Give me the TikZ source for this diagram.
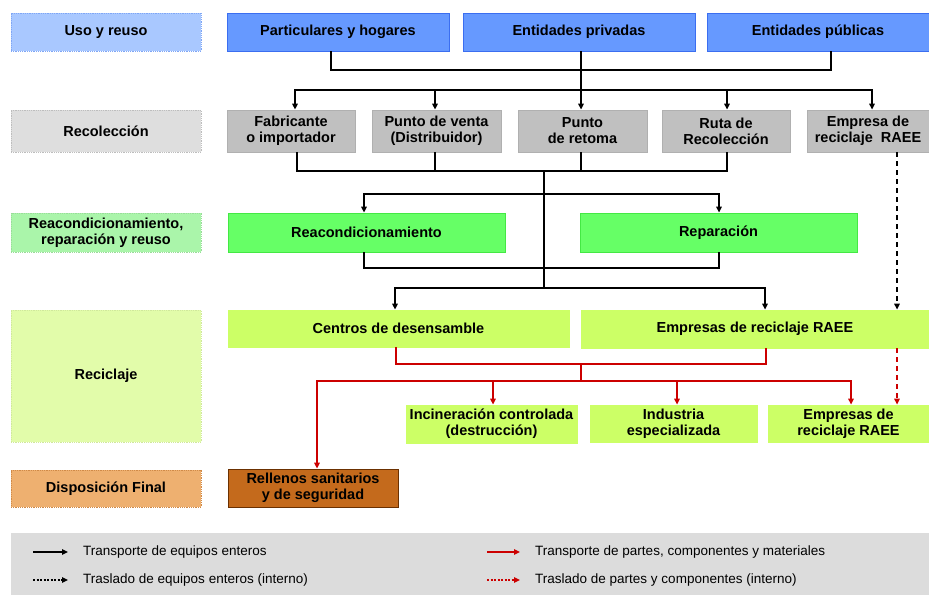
\documentclass[tikz,border=0pt]{standalone}
\usepackage{fontspec}
\setmainfont{Liberation Sans}
\usetikzlibrary{arrows.meta}
\definecolor{blab}{HTML}{A9C8FF}
\definecolor{blabd}{HTML}{7FA6F5}
\definecolor{bbox}{HTML}{6699FF}
\definecolor{bboxd}{HTML}{3B6EF0}
\definecolor{glab}{HTML}{DEDEDE}
\definecolor{gbox}{HTML}{C0C0C0}
\definecolor{gboxd}{HTML}{B0B0B0}
\definecolor{grlab}{HTML}{AAF5AA}
\definecolor{grbox}{HTML}{66FF66}
\definecolor{grboxd}{HTML}{44E844}
\definecolor{ylab}{HTML}{E2FCAA}
\definecolor{ybox}{HTML}{CCFF66}
\definecolor{olab}{HTML}{EEB070}
\definecolor{olabd}{HTML}{D08A48}
\definecolor{obox}{HTML}{C46A1C}
\definecolor{oboxd}{HTML}{6B3000}
\definecolor{leggray}{HTML}{DCDCDC}
\definecolor{rline}{HTML}{CC0000}
\begin{document}
\begin{tikzpicture}[x=1pt,y=-1pt,
  font=\bfseries\fontsize{14.5}{16}\selectfont,
  bx/.style args={#1,#2,#3,#4}{minimum width={(#3-#1)*1pt}, minimum height={(#4-#2)*1pt}, at={({(#1+#3)/2},{(#2+#4)/2})}},
  box/.style={draw, line width=0.8pt, inner sep=0pt, align=center},
  lab/.style={box, densely dotted},
  ln/.style={line width=1.4pt, line cap=rect},
  arr/.style={line width=1.4pt, -{Triangle[length=6pt,width=5.5pt]}},
  rl/.style={ln, rline},
  rarr/.style={arr, rline},
  legtxt/.style={anchor=west, inner sep=0pt, font=\mdseries\fontsize{13.5}{15}\selectfont}
]
\useasboundingbox (0,0) rectangle (929,595);

% left labels
\node[lab, fill=blab, draw=blabd, bx={11,13,201,51}] (l1) {Uso y reuso};
\node[lab, fill=glab, draw=glab!85!black, bx={11,110,201,152}] (l2) {Recolección};
\node[lab, fill=grlab, draw=grlab!90!black, bx={11,213,201,252}] (l3) {Reacondicionamiento,\\reparación y reuso};
\node[lab, fill=ylab, draw=ylab!92!black, bx={11,310,201,442}] (l4) {Reciclaje};
\node[lab, fill=olab, draw=olabd, bx={11,470,201,507}] (l5) {Disposición Final};

% top row
\node[box, fill=bbox, draw=bboxd, bx={227,13,449,51}] (ph) {Particulares y hogares};
\node[box, fill=bbox, draw=bboxd, bx={463,13,695,51}] (pv) {Entidades privadas};
\node[box, fill=bbox, draw=bboxd, bx={707,13,929,51}] (pu) {Entidades públicas};

% collection row
\node[box, fill=gbox, draw=gboxd, bx={227,110,355,152}] (fab) {Fabricante\\o importador};
\node[box, fill=gbox, draw=gboxd, bx={372,110,501,152}] (pvd) {Punto de venta\\(Distribuidor)};
\node[box, fill=gbox, draw=gboxd, bx={518,110,647,152}] (ret) {Punto\\de retoma};
\node[box, fill=gbox, draw=gboxd, bx={662,110,790,152}] (ruta) {Ruta de\\Recolección};
\node[box, fill=gbox, draw=gboxd, bx={807,110,929,152}] (ere) {Empresa de\\reciclaje\ \ RAEE};

% refurbishing row
\node[box, fill=grbox, draw=grboxd, bx={228,213,505,252}] (rea) {Reacondicionamiento};
\node[box, fill=grbox, draw=grboxd, bx={580,213,857,252}] (rep) {Reparación};

% recycling row
\node[box, fill=ybox, draw=ybox, bx={228,310,569,347}] (cen) {Centros de desensamble};
\node[box, fill=ybox, draw=ybox, bx={581,310,929,348}] (emp) {Empresas de reciclaje RAEE};
\node[box, fill=ybox, draw=ybox, bx={406,405,577,443}] (inc) {Incineración controlada\\(destrucción)};
\node[box, fill=ybox, draw=ybox, bx={590,405,757,442}] (ind) {Industria\\especializada};
\node[box, fill=ybox, draw=ybox, bx={768,405,929,442}] (erb) {Empresas de\\reciclaje RAEE};

% final disposal
\node[box, fill=obox, draw=oboxd, bx={228,469,398,507}] (rel) {Rellenos sanitarios\\y de seguridad};

% connectors: use -> collection
\draw[ln] (331,0 |- ph.south) -- (331,70) -- (831,70) -- (831,0 |- pu.south);
\draw[ln] (295,90) -- (872,90);
\draw[arr] (581,0 |- pv.south) -- (581,0 |- ret.north);
\draw[arr] (295,90) -- (295,0 |- fab.north);
\draw[arr] (435,90) -- (435,0 |- pvd.north);
\draw[arr] (727,90) -- (727,0 |- ruta.north);
\draw[arr] (872,90) -- (872,0 |- ere.north);

% collection -> refurbishing / recycling
\draw[ln] (297,0 |- fab.south) -- (297,171) -- (727,171) -- (727,0 |- ruta.south);
\draw[ln] (435,0 |- pvd.south) -- (435,171);
\draw[ln] (581,0 |- ret.south) -- (581,171);
\draw[ln] (544,171) -- (544,288);
\draw[ln] (364,194) -- (719,194);
\draw[arr] (364,194) -- (364,0 |- rea.north);
\draw[arr] (719,194) -- (719,0 |- rep.north);
\draw[ln] (364,0 |- rea.south) -- (364,268) -- (719,268) -- (719,0 |- rep.south);
\draw[ln] (395,288) -- (765,288);
\draw[arr] (395,288) -- (395,0 |- cen.north);
\draw[arr] (765,288) -- (765,0 |- emp.north);
\draw[arr, dash pattern=on 5pt off 4pt] (897,0 |- ere.south) -- (897,0 |- emp.north);

% recycling -> outputs (red)
\draw[rl] (396,0 |- cen.south) -- (396,364) -- (766,364) -- (766,0 |- emp.south);
\draw[rl] (581,364) -- (581,381);
\draw[rl] (317,381) -- (851,381);
\draw[rarr] (317,381) -- (317,0 |- rel.north);
\draw[rarr] (493,381) -- (493,0 |- inc.north);
\draw[rarr] (677,381) -- (677,0 |- ind.north);
\draw[rarr] (851,381) -- (851,0 |- erb.north);
\draw[rarr, dash pattern=on 5pt off 4pt] (897,0 |- emp.south) -- (897,0 |- erb.north);

% legend
\node[fill=leggray, inner sep=0pt, bx={11,533,929,595}] (leg) {};
\coordinate (a1s) at (33,552); \coordinate (a1e) at (68,552);
\coordinate (a2s) at (33,580); \coordinate (a2e) at (68,580);
\coordinate (a3s) at (487,552); \coordinate (a3e) at (520,552);
\coordinate (a4s) at (487,580); \coordinate (a4e) at (520,580);
\draw[arr] (a1s) -- (a1e);
\draw[arr, dash pattern=on 2pt off 1.5pt] (a2s) -- (a2e);
\draw[rarr] (a3s) -- (a3e);
\draw[rarr, dash pattern=on 2pt off 1.5pt] (a4s) -- (a4e);
\node[legtxt] (t1) at (83,552) {Transporte de equipos enteros};
\node[legtxt] (t2) at (83,580) {Traslado de equipos enteros (interno)};
\node[legtxt] (t3) at (535,552) {Transporte de partes, componentes y materiales};
\node[legtxt] (t4) at (535,580) {Traslado de partes y componentes (interno)};
\end{tikzpicture}
\end{document}
